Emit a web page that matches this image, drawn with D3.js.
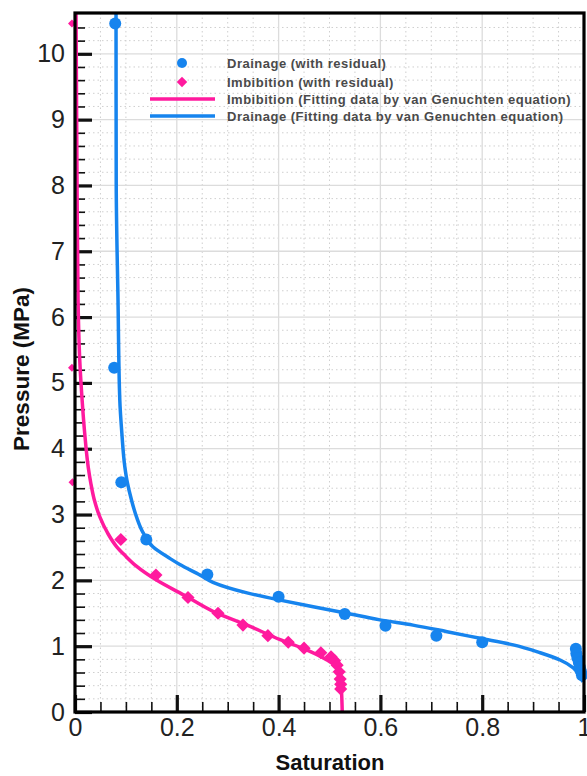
<!DOCTYPE html>
<html>
<head>
<meta charset="utf-8">
<script src="https://cdn.jsdelivr.net/npm/d3@7"></script>
<style>
  body { margin: 0; background: #fff; }
  svg { display: block; }
</style>
</head>
<body>
<script>
// canvas size and plot box
var w = 587,
  h = 776;
var plotLeft = 75, plotRight = 584, plotTop = 13, plotBottom = 712;

// tick values
var xTicks = [0, 0.2, 0.4, 0.6, 0.8, 1];
var yTicks = [0, 1, 2, 3, 4, 5, 6, 7, 8, 9, 10];
var xMinor = [0.05, 0.1, 0.15, 0.25, 0.3, 0.35, 0.45, 0.5, 0.55, 0.65, 0.7, 0.75, 0.85, 0.9, 0.95];
var yMinor = [0.2, 0.4, 0.6, 0.8, 1.2, 1.4, 1.6, 1.8, 2.2, 2.4, 2.6, 2.8, 3.2, 3.4, 3.6, 3.8,
  4.2, 4.4, 4.6, 4.8, 5.2, 5.4, 5.6, 5.8, 6.2, 6.4, 6.6, 6.8, 7.2, 7.4, 7.6, 7.8,
  8.2, 8.4, 8.6, 8.8, 9.2, 9.4, 9.6, 9.8, 10.2, 10.4];

// drainage measured points (with residual)
var drainSat = [0.079, 0.077, 0.091, 0.14, 0.26, 0.40, 0.53, 0.61, 0.71, 0.80,
  0.984, 0.985, 0.987, 0.99, 0.992, 0.994, 0.996];
var drainP = [10.46, 5.23, 3.49, 2.62, 2.09, 1.75, 1.49, 1.31, 1.16, 1.06,
  0.96, 0.89, 0.82, 0.75, 0.68, 0.62, 0.56];

// imbibition measured points (with residual)
var imbSat = [-0.006, -0.006, -0.005, 0.09, 0.159, 0.222, 0.281, 0.33, 0.379, 0.419,
  0.45, 0.483, 0.503, 0.51, 0.515, 0.519, 0.521, 0.522, 0.522];
var imbP = [10.46, 5.23, 3.49, 2.62, 2.08, 1.74, 1.5, 1.32, 1.16, 1.06,
  0.97, 0.9, 0.84, 0.78, 0.71, 0.61, 0.5, 0.42, 0.35];

// drainage fitting curve (van Genuchten)
var drainFitSat = [0.0806, 0.081, 0.0845, 0.088, 0.092, 0.098, 0.103, 0.111, 0.121, 0.134,
  0.153, 0.187, 0.206, 0.246, 0.271, 0.338, 0.403, 0.468, 0.534, 0.599, 0.664, 0.731,
  0.796, 0.861, 0.914, 0.953, 0.979, 0.992, 0.998];
var drainFitP = [10.62, 8.02, 6.26, 4.74, 4.24, 3.72, 3.48, 3.22, 2.96, 2.72,
  2.51, 2.33, 2.24, 2.08, 1.97, 1.81, 1.70, 1.60, 1.50, 1.40, 1.32, 1.22,
  1.12, 1.02, 0.90, 0.79, 0.67, 0.53, 0.46];

// imbibition fitting curve (van Genuchten)
var imbFitSat = [0.002, 0.004, 0.006, 0.010, 0.014, 0.019, 0.026, 0.031, 0.038, 0.049, 0.064,
  0.082, 0.098, 0.120, 0.161, 0.220, 0.271, 0.338, 0.403, 0.456, 0.495, 0.515, 0.522, 0.524, 0.525];
var imbFitP = [10.62, 8.02, 6.26, 5.24, 4.74, 4.24, 3.72, 3.48, 3.22, 2.96, 2.72,
  2.51, 2.38, 2.22, 2.00, 1.75, 1.53, 1.32, 1.10, 0.94, 0.79, 0.67, 0.50, 0.25, 0];

var blue = "#1684ee",
  pink = "#ff1a9e";

var svg = d3.select("body").append("svg").attr("width", w).attr("height", h);

var xScale = d3.scaleLinear().domain([0, 1]).range([plotLeft, plotRight]);
var yScale = d3.scaleLinear().domain([0, 10.62]).range([plotBottom, plotTop]);

// grid: dotted minor lines, solid major lines
var grid = svg.append("g");
grid.selectAll(".vminor").data(xMinor).enter().append("line")
  .attr("x1", d => xScale(d)).attr("x2", d => xScale(d))
  .attr("y1", plotTop).attr("y2", plotBottom)
  .attr("stroke", "#cfcfcf").attr("stroke-width", 1).attr("stroke-dasharray", "1.5,3");
grid.selectAll(".hminor").data(yMinor).enter().append("line")
  .attr("x1", plotLeft).attr("x2", plotRight)
  .attr("y1", d => yScale(d)).attr("y2", d => yScale(d))
  .attr("stroke", "#cfcfcf").attr("stroke-width", 1).attr("stroke-dasharray", "1.5,3");
grid.selectAll(".vmajor").data(xTicks).enter().append("line")
  .attr("x1", d => xScale(d)).attr("x2", d => xScale(d))
  .attr("y1", plotTop).attr("y2", plotBottom)
  .attr("stroke", "#dcdcdc").attr("stroke-width", 1.3);
grid.selectAll(".hmajor").data(yTicks).enter().append("line")
  .attr("x1", plotLeft).attr("x2", plotRight)
  .attr("y1", d => yScale(d)).attr("y2", d => yScale(d))
  .attr("stroke", "#dcdcdc").attr("stroke-width", 1.3);

// axes: ticks point into the plot
var xAxis = d3.axisBottom(xScale).tickValues(xTicks).tickSize(-17).tickPadding(6)
  .tickFormat(d => String(d));
var yAxis = d3.axisLeft(yScale).tickValues(yTicks).tickSize(-17).tickPadding(10)
  .tickFormat(d => String(d));
var xMinorAxis = d3.axisBottom(xScale).tickValues(xMinor).tickSize(-10).tickFormat("");
var yMinorAxis = d3.axisLeft(yScale).tickValues(yMinor).tickSize(-10).tickFormat("");

function styleAxis(g, width) {
  g.select(".domain").remove();
  g.selectAll(".tick line").attr("stroke", "#111").attr("stroke-width", width);
  g.selectAll("text").attr("font-family", "Arial, 'Liberation Sans', sans-serif")
    .attr("font-size", 25).attr("fill", "#222");
}

svg.append("g").attr("transform", "translate(0," + plotBottom + ")").call(xMinorAxis).call(styleAxis, 1.6);
svg.append("g").attr("transform", "translate(" + plotLeft + ",0)").call(yMinorAxis).call(styleAxis, 1.6);
svg.append("g").attr("transform", "translate(0," + plotBottom + ")").call(xAxis).call(styleAxis, 3.2);
svg.append("g").attr("transform", "translate(" + plotLeft + ",0)").call(yAxis).call(styleAxis, 3.2);

// fitted curves (sat as a smooth function of pressure)
var line = d3.line()
  .x(d => xScale(d[0]))
  .y(d => yScale(d[1]))
  .curve(d3.curveMonotoneY);

function fitData(sat, p) {
  return sat.map((s, i) => [s, p[i]]).sort((a, b) => a[1] - b[1]);
}

svg.append("path")
  .datum(fitData(imbFitSat, imbFitP))
  .attr("d", line).attr("fill", "none").attr("stroke", pink).attr("stroke-width", 3.5);
svg.append("path")
  .datum(fitData(drainFitSat, drainFitP))
  .attr("d", line).attr("fill", "none").attr("stroke", blue).attr("stroke-width", 3.5);

// measured points
svg.selectAll(".drain").data(drainSat).enter().append("circle")
  .attr("cx", d => xScale(d))
  .attr("cy", (d, i) => yScale(drainP[i]))
  .attr("r", 6).attr("fill", blue);

var diamond = d3.symbol().type(d3.symbolDiamond2);
svg.selectAll(".imb").data(imbSat).enter().append("path")
  .attr("transform", (d, i) => "translate(" + xScale(d) + "," + yScale(imbP[i]) + ")")
  .attr("d", (d, i) => diamond.size(d < 0 ? 40 : 110)())
  .attr("fill", pink);

// plot frame
svg.append("rect")
  .attr("x", plotLeft).attr("y", plotTop)
  .attr("width", plotRight - plotLeft).attr("height", plotBottom - plotTop)
  .attr("fill", "none").attr("stroke", "#000").attr("stroke-width", 3.2);

// axis titles
svg.append("text")
  .attr("x", 330).attr("y", 770)
  .attr("text-anchor", "middle")
  .attr("font-family", "Arial, 'Liberation Sans', sans-serif")
  .attr("font-weight", "bold").attr("font-size", 22).attr("fill", "#111")
  .text("Saturation");
svg.append("text")
  .attr("transform", "translate(29,369) rotate(-90)")
  .attr("text-anchor", "middle")
  .attr("font-family", "Arial, 'Liberation Sans', sans-serif")
  .attr("font-weight", "bold").attr("font-size", 22.5).attr("fill", "#111")
  .text("Pressure (MPa)");

// legend
var legendLabels = [
  "Drainage (with residual)",
  "Imbibition (with residual)",
  "Imbibition (Fitting data by van Genuchten equation)",
  "Drainage (Fitting data by van Genuchten equation)"
];
var legendKinds = ["circle", "diamond", "line", "line"];
var legendColors = [blue, pink, pink, blue];
var legendY = [63, 82, 99, 116];

var legend = svg.append("g");
legend.selectAll("text").data(legendLabels).enter().append("text")
  .attr("x", 227)
  .attr("y", (d, i) => legendY[i] + 4.8)
  .attr("font-family", "Arial, 'Liberation Sans', sans-serif")
  .attr("font-weight", "bold").attr("font-size", 13).attr("fill", "#4a4a4a")
  .attr("letter-spacing", 0.5)
  .text(d => d);
legendKinds.forEach(function (k, i) {
  if (k === "circle") {
    legend.append("circle").attr("cx", 182).attr("cy", legendY[i]).attr("r", 5).attr("fill", legendColors[i]);
  } else if (k === "diamond") {
    legend.append("path").attr("transform", "translate(182," + legendY[i] + ")")
      .attr("d", diamond.size(70)()).attr("fill", legendColors[i]);
  } else {
    legend.append("line").attr("x1", 150).attr("x2", 215)
      .attr("y1", legendY[i]).attr("y2", legendY[i])
      .attr("stroke", legendColors[i]).attr("stroke-width", 3.5);
  }
});
</script>
</body>
</html>
